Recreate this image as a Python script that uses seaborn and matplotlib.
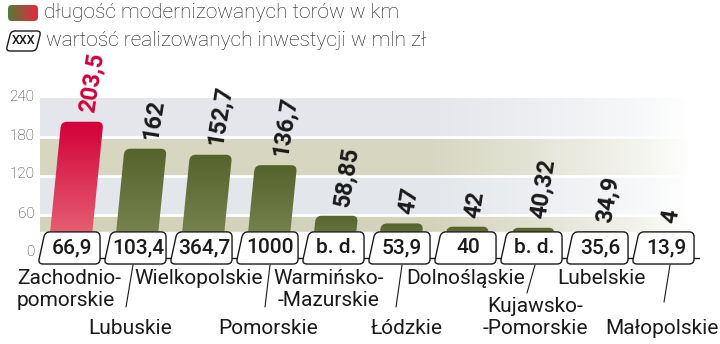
import numpy as np
import pandas as pd
import matplotlib
matplotlib.use("Agg")
import matplotlib.pyplot as plt
import seaborn as sns
from matplotlib.patches import FancyBboxPatch, PathPatch
from matplotlib.path import Path
from matplotlib.transforms import Affine2D, ScaledTranslation
from matplotlib.lines import Line2D
from matplotlib.colors import to_rgb
from matplotlib import font_manager as fm

# ---------------- data ----------------
regions = ["Zachodnio-\npomorskie", "Lubuskie", "Wielkopolskie", "Pomorskie",
           "Warmińsko-\n-Mazurskie", "Łódzkie", "Dolnośląskie",
           "Kujawsko-\n-Pomorskie", "Lubelskie", "Małopolskie"]
track_km = [203.5, 162, 152.7, 136.7, 58.85, 47, 42, 40.32, 34.9, 4]
track_labels = ["203,5", "162", "152,7", "136,7", "58,85", "47", "42", "40,32", "34,9", "4"]
investment = ["66,9", "103,4", "364,7", "1000", "b. d.", "53,9", "40", "b. d.", "35,6", "13,9"]
y_ticks = [0, 60, 120, 180, 240]
legend_texts = ["długość modernizowanych torów w km",
                "wartość realizowanych inwestycji w mln zł"]
legend_box_text = "XXX"

# ---------------- style ----------------
sns.set_style("white")
plt.rcParams["font.family"] = ["Roboto", "DejaVu Sans"]
names = {f.name for f in fm.fontManager.ttflist}
if "Liberation Sans Narrow" in names:
    VAL_FAMILY, VAL_SIZE = ["Liberation Sans Narrow", "Roboto"], 21
else:
    VAL_FAMILY, VAL_SIZE = ["Roboto", "DejaVu Sans"], 17

W, H, DPI = 720, 344, 100
fig = plt.figure(figsize=(W / DPI, H / DPI), dpi=DPI)
P = Affine2D().scale(1 / DPI, -1 / DPI).translate(0, H / DPI) + fig.dpi_scale_trans

ax_left, ax_right, ax_bottom, ax_top = 40, 700, 254, 98
ax = fig.add_axes([ax_left / W, (H - ax_bottom) / H,
                   (ax_right - ax_left) / W, (ax_bottom - ax_top) / H])
XL = (-0.44, 9.56)
YL = (0, 240)

df = pd.DataFrame({"region": regions, "km": track_km})
GREEN_TOP, GREEN_BOT = "#56632b", "#7f8a58"
RED_TOP, RED_BOT = "#d3003a", "#e8707c"
palette = {r: (RED_TOP if i == 0 else GREEN_TOP) for i, r in enumerate(regions)}
sns.barplot(data=df, x="region", y="km", hue="region", palette=palette,
            width=0.64, legend=False, ax=ax, zorder=2, saturation=1)

# background bands fading to white on the right
band_cols = ["#d3d3bb", "#e3e6eb", "#d6d6c1", "#e4e6eb"]
ncol = 400
xs = np.linspace(XL[0], XL[1], ncol)
px = ax_left + (xs - XL[0]) * (ax_right - ax_left) / (XL[1] - XL[0])
alpha = np.clip((690 - px) / (690 - 430), 0, 1) ** 0.8
img = np.zeros((4, ncol, 4))
for k, c in enumerate(band_cols):
    img[k, :, :3] = to_rgb(c)
    img[k, :, 3] = alpha
ax.imshow(img, extent=(XL[0], XL[1], 0, 240), aspect="auto", origin="lower",
          interpolation="nearest", zorder=0)
for g in y_ticks[1:-1]:
    ax.axhline(g, color="white", lw=2, zorder=1)

xunit = (ax_right - ax_left) / (XL[1] - XL[0])
yunit = (ax_bottom - ax_top) / (YL[1] - YL[0])
slant = 0.1
S = slant * yunit / xunit
skew = Affine2D(np.array([[1, S, 0], [0, 1, 0], [0, 0, 1]]))
tr = skew + ax.transData
r_px = 6
R = r_px / xunit
MA = (r_px / yunit) / R
box_lo, box_hi = -15.4, 34

bars = list(ax.patches)
for i, p in enumerate(bars):
    x, w, h = p.get_x(), p.get_width(), p.get_height()
    p.set_visible(False)
    clip = FancyBboxPatch((x, 0), w, h, boxstyle=f"round,pad=0,rounding_size={R}",
                          mutation_aspect=MA, transform=tr, facecolor="none",
                          edgecolor="none")
    ax.add_patch(clip)
    top, bot = (RED_TOP, RED_BOT) if i == 0 else (GREEN_TOP, GREEN_BOT)
    t = np.linspace(0, 1, 64)[:, None]
    grad = np.zeros((64, 2, 3))
    for ch in range(3):
        grad[:, :, ch] = to_rgb(bot)[ch] * (1 - t) + to_rgb(top)[ch] * t
    im = ax.imshow(grad, extent=(x, x + w, 0, h), aspect="auto", origin="lower",
                   transform=tr, zorder=2, interpolation="bilinear")
    im.set_clip_path(clip)
    ax.annotate(track_labels[i], xy=(x + w / 2, max(h, box_hi)), xycoords=tr,
                xytext=(3.5, 6.5), textcoords="offset points",
                rotation=81, rotation_mode="anchor", ha="left", va="center",
                fontsize=VAL_SIZE, fontweight="bold", family=VAL_FAMILY,
                color=(RED_TOP if i == 0 else "#1a1a1a"), annotation_clip=False)

# white strip behind value boxes
ax.axhspan(-20, box_hi, color="white", zorder=3)


def slanted_box(w, h, left_dx, right_dx, r):
    """Rounded box path in pixel units (y up): left/right edges lean right."""
    def lx(y):
        return left_dx * y / h

    def rx(y):
        return w - right_dx + right_dx * y / h
    verts = [(lx(r), r), (0, 0), (r, 0),
             (rx(0) - r, 0), (rx(0), 0), (rx(r), r),
             (rx(h - r), h - r), (rx(h), h), (rx(h) - r, h),
             (lx(h) + r, h), (lx(h), h), (lx(h - r), h - r),
             (lx(r), r)]
    codes = [Path.MOVETO, Path.CURVE3, Path.CURVE3,
             Path.LINETO, Path.CURVE3, Path.CURVE3,
             Path.LINETO, Path.CURVE3, Path.CURVE3,
             Path.LINETO, Path.CURVE3, Path.CURVE3,
             Path.CLOSEPOLY]
    return Path(verts, codes)


# value boxes (pixel-sized shape positioned on the category axis)
BOX_W, BOX_H = 62, (box_hi - box_lo) * yunit
box_path = slanted_box(BOX_W, BOX_H, 7, 0, 5)
for i, v in enumerate(investment):
    btr = Affine2D().scale(1 / xunit, 1 / yunit).translate(i - 31 / xunit, box_lo) + ax.transData
    ax.add_patch(PathPatch(box_path, facecolor="white", edgecolor="#1a1a1a", lw=1.0,
                           zorder=5, transform=btr, clip_on=False))
    ax.add_line(Line2D([BOX_W - 0.5, 66 + 1.3], [6, 6], transform=btr, color="#1a1a1a",
                       lw=1.0, zorder=5, clip_on=False))
    ax.text(i + 3 / xunit, (box_lo + box_hi) / 2, v, ha="center", va="center",
            fontsize=15, fontweight="medium", color="#1a1a1a", zorder=6, clip_on=False)

ax.set_xlim(*XL)
ax.set_ylim(*YL)
ax.set_xticks([])
ax.set_xlabel("")
ax.set_ylabel("")
ax.set_yticks(y_ticks)
ax.set_yticklabels([str(t) for t in y_ticks], fontsize=11, fontweight="light",
                   color="#333333")
ax.tick_params(axis="y", length=0, pad=4)
for lbl in ax.get_yticklabels():
    lbl.set_transform(lbl.get_transform() + ScaledTranslation(0, 3 / DPI, fig.dpi_scale_trans))
for s in ax.spines.values():
    s.set_visible(False)

# region labels (layout in pixels)
label_pos = [(17, 290, "left"), (130, 328, "center"), (199, 279, "center"),
             (268, 328, "center"), (329, 290, "center"), (407, 328, "center"),
             (466, 279, "center"), (535, 317, "center"), (601, 279, "center"),
             (662, 329, "center")]
for name, (lx_, ly_, ha) in zip(regions, label_pos):
    fig.text(lx_, ly_, name, transform=P, ha=ha, va="center", fontsize=15,
             color="#1a1a1a", linespacing=1.2, multialignment=ha)
leaders = [((133, 265), (126, 307)), ((270, 265), (265, 307)),
           ((402, 265), (396, 307)), ((535, 265), (527, 293)),
           ((670, 265), (664, 302))]
for (x0, y0), (x1, y1) in leaders:
    fig.add_artist(Line2D([x0, x1], [y0, y1], transform=P, color="#1a1a1a", lw=0.8))

# legend
sw = fig.add_axes([8 / W, 1 - 21 / H, 30 / W, 16 / H])
sw.set_axis_off()
gx = np.linspace(0, 1, 64)[None, :]
c0, c1 = np.array(to_rgb("#557a38")), np.array(to_rgb("#e8283f"))
gimg = np.zeros((2, 64, 3))
for ch in range(3):
    gimg[:, :, ch] = c0[ch] * (1 - gx) + c1[ch] * gx
gi = sw.imshow(gimg, extent=(0, 1, 0, 1), aspect="auto", interpolation="bilinear")
sw.set_xlim(0, 1)
sw.set_ylim(0, 1)
gclip = FancyBboxPatch((0, 0), 1, 1, boxstyle="round,pad=0,rounding_size=0.13",
                       mutation_aspect=1.9, transform=sw.transAxes,
                       facecolor="none", edgecolor="none")
sw.add_patch(gclip)
gi.set_clip_path(gclip)
fig.text(44, 13, legend_texts[0], transform=P, ha="left", va="center",
         fontsize=15, fontweight="light", color="#1a1a1a")
leg_box = slanted_box(35, 20, 5, 5, 4)
fig.add_artist(PathPatch(leg_box, facecolor="white", edgecolor="#1a1a1a", lw=1.0,
                         transform=Affine2D().translate(6, -51).scale(1, -1) + P))
fig.text(24, 40.5, legend_box_text, transform=P, ha="center", va="center",
         fontsize=9, fontweight="medium", color="#1a1a1a")
fig.text(46, 40, legend_texts[1], transform=P, ha="left", va="center",
         fontsize=15, fontweight="light", color="#1a1a1a")

fig.savefig("out.png", dpi=DPI, facecolor="white")
